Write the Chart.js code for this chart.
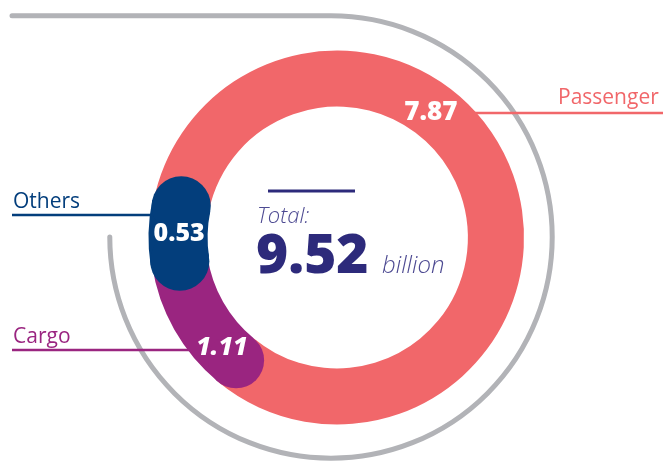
<!DOCTYPE html>
<html>
<head>
<meta charset="utf-8">
<script src="https://cdn.jsdelivr.net/npm/chart.js@4/dist/chart.umd.min.js"></script>
<style>
  html, body { margin: 0; padding: 0; background: #ffffff; }
  #wrap { position: relative; width: 665px; height: 461px; }
</style>
</head>
<body>
<div id="wrap"><canvas id="c"></canvas></div>
<script>
// ---- data ----
const categories = ['Passenger', 'Cargo', 'Others'];
const values = [7.87, 1.11, 0.53];
const valueLabels = ['7.87', '1.11', '0.53'];
const totalLabel = '9.52';
const totalTitle = 'Total:';
const totalUnit = 'billion';

// ---- style ----
const colors = ['#f1676a', '#9a2580', '#033e7c'];
const navy = '#2d2a7b';
const FONT = '"Open Sans", "Noto Sans", sans-serif';

const labelFraction = [0.386, 0.176, 0.52];   // where along each arc the value text sits
const labelFont = ['800 26px ', 'italic 800 25px ', '800 25px '];
const capStart = [false, true, true];
const capEnd = [false, false, true];
const widen = [0, 0, 1.5];

const legendLayout = [
  { x: 558, y: 104, lineY: 113, x1: 450, x2: 663 },
  { x: 13, y: 343, lineY: 350, x1: 12, x2: 230 },
  { x: 13, y: 208, lineY: 215, x1: 12, x2: 180 }
];

const decorPlugin = {
  id: 'decor',
  beforeDatasetsDraw(chart) {
    const ctx = chart.ctx;
    const arc = chart.getDatasetMeta(0).data[0];
    const { x: cx, y: cy, outerRadius } = arc.getProps(['x', 'y', 'outerRadius'], true);
    const gr = outerRadius * 1.183;
    const gx = cx - 6, gy = cy - 0.5;
    ctx.save();
    ctx.strokeStyle = '#b2b3b7';
    ctx.lineWidth = 5;
    ctx.lineCap = 'round';
    ctx.lineJoin = 'round';
    ctx.beginPath();
    ctx.arc(gx, gy, gr, Math.PI, -Math.PI / 2, true);
    ctx.lineTo(12, gy - gr);
    ctx.stroke();
    ctx.lineWidth = 2.5;
    ctx.lineCap = 'butt';
    categories.forEach((c, i) => {
      const L = legendLayout[i];
      ctx.strokeStyle = colors[i];
      ctx.beginPath();
      ctx.moveTo(L.x1, L.lineY);
      ctx.lineTo(L.x2, L.lineY);
      ctx.stroke();
    });
    ctx.restore();
  },
  afterDatasetsDraw(chart) {
    const ctx = chart.ctx;
    const meta = chart.getDatasetMeta(0);
    ctx.save();
    const drawCap = (p, ang, color, w) => {
      const mr = (p.innerRadius + p.outerRadius) / 2;
      const cr = (p.outerRadius - p.innerRadius) / 2 + w;
      ctx.fillStyle = color;
      ctx.beginPath();
      ctx.arc(p.x + mr * Math.cos(ang), p.y + mr * Math.sin(ang), cr, 0, Math.PI * 2);
      ctx.fill();
    };
    const props = meta.data.map(el => el.getProps(['x', 'y', 'startAngle', 'endAngle', 'innerRadius', 'outerRadius'], true));
    props.forEach((p, i) => {
      if (capStart[i] && !capEnd[i]) drawCap(p, p.startAngle, colors[i], widen[i]);
    });
    props.forEach((p, i) => {
      if (capStart[i] && capEnd[i]) {
        ctx.fillStyle = colors[i];
        ctx.beginPath();
        ctx.arc(p.x, p.y, p.outerRadius + widen[i], p.startAngle, p.endAngle);
        ctx.arc(p.x, p.y, p.innerRadius - widen[i], p.endAngle, p.startAngle, true);
        ctx.closePath();
        ctx.fill();
        drawCap(p, p.startAngle, colors[i], widen[i]);
        drawCap(p, p.endAngle, colors[i], widen[i]);
      }
    });
    // value labels
    ctx.fillStyle = '#ffffff';
    ctx.textAlign = 'center';
    ctx.textBaseline = 'alphabetic';
    props.forEach((p, i) => {
      const a = p.startAngle + (p.endAngle - p.startAngle) * labelFraction[i];
      const r = (p.innerRadius + p.outerRadius) / 2 - 1;
      const fs = parseFloat(labelFont[i].match(/(\d+)px/)[1]);
      ctx.font = labelFont[i] + FONT;
      ctx.fillText(valueLabels[i], p.x + r * Math.cos(a), p.y + r * Math.sin(a) + fs * 0.357);
    });
    // legend texts
    ctx.textAlign = 'left';
    ctx.font = '400 21px ' + FONT;
    categories.forEach((c, i) => {
      const L = legendLayout[i];
      ctx.fillStyle = colors[i];
      ctx.fillText(c, L.x, L.y);
    });
    // center text
    const cx = props[0].x, cy = props[0].y;
    ctx.strokeStyle = navy;
    ctx.lineWidth = 3;
    ctx.beginPath();
    ctx.moveTo(cx - 69, cy - 46.5);
    ctx.lineTo(cx + 18, cy - 46.5);
    ctx.stroke();
    ctx.fillStyle = '#4d4a92';
    ctx.font = 'italic 300 22px ' + FONT;
    ctx.fillText(totalTitle, cx - 80, cy - 14.5);
    ctx.fillStyle = navy;
    ctx.font = '800 55px ' + FONT;
    ctx.fillText(totalLabel, cx - 81, cy + 35.5);
    ctx.fillStyle = '#4d4a92';
    ctx.font = 'italic 300 24px ' + FONT;
    ctx.fillText(totalUnit, cx + 45, cy + 35.5);
    ctx.restore();
  }
};

new Chart(document.getElementById('c'), {
  type: 'doughnut',
  data: {
    labels: categories,
    datasets: [{
      data: values,
      backgroundColor: colors,
      borderWidth: 0,
      hoverOffset: 0
    }]
  },
  options: {
    responsive: true,
    maintainAspectRatio: false,
    animation: false,
    cutout: '70%',
    rotation: 281.5,
    layout: { padding: { top: 50, bottom: 36, left: 150, right: 141 } },
    plugins: {
      legend: { display: false },
      tooltip: { enabled: false }
    },
    events: []
  },
  plugins: [decorPlugin]
});
</script>
</body>
</html>
